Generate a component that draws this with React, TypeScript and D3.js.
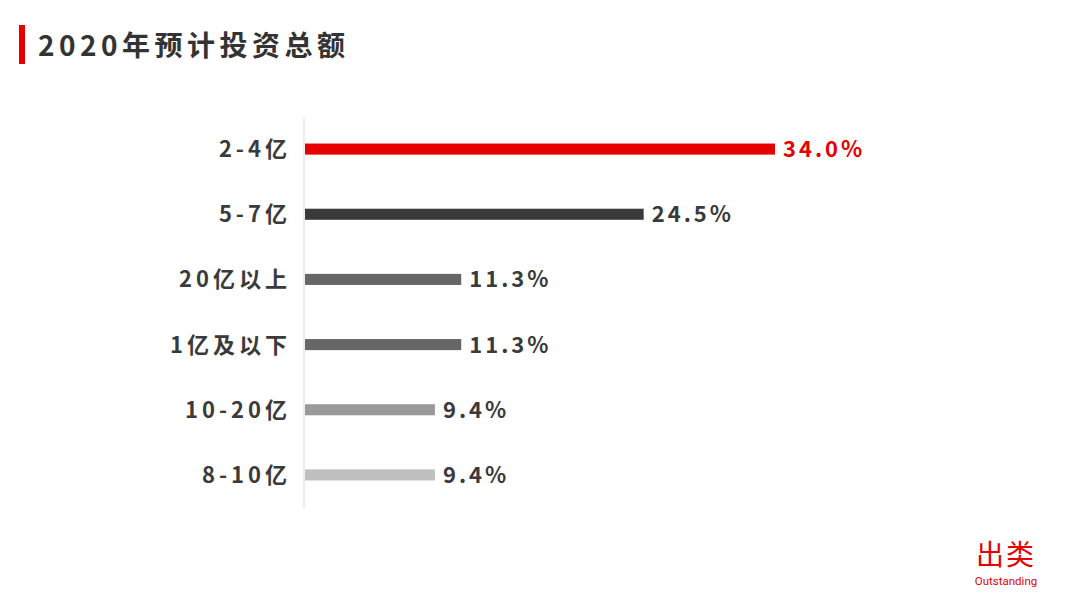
import React from "react";
import * as d3 from "d3";

const categories = ["2-4亿", "5-7亿", "20亿以上", "1亿及以下", "10-20亿", "8-10亿"];
const values = [34.0, 24.5, 11.3, 11.3, 9.4, 9.4];
const barColors = ["#e60000", "#3a3a3a", "#666666", "#666666", "#9a9a9a", "#bfbfbf"];
const valueColors = ["#e60000", "#3a3a3a", "#3a3a3a", "#3a3a3a", "#3a3a3a", "#3a3a3a"];
const title = "2020年预计投资总额";

export default function App() {
  const W = 1080, H = 608;
  const x0 = 304;
  const x = d3.scaleLinear().domain([0, 34]).range([x0 + 1, 775]);
  const y = d3.scaleBand<string>().domain(categories).range([116.5, 507.5]).paddingInner(0.83).paddingOuter(0.415);
  const font = "'Noto Sans CJK SC', 'Noto Sans', sans-serif";
  return (
    <svg width={W} height={H} style={{ position: "absolute", left: 0, top: 0, background: "#fff" }} fontFamily={font}>
      <rect x={19} y={25} width={6} height={39} fill="#e60000" />
      <text x={38} y={56} fontSize={28} fontWeight={700} fill="#333" letterSpacing={4.5}>{title}</text>
      <line x1={x0} x2={x0} y1={117} y2={508} stroke="#d9d9d9" strokeWidth={1} />
      {categories.map((c, i) => {
        const yc = (y(c) as number) + y.bandwidth() / 2;
        return (
          <g key={c}>
            <text x={291} y={yc} dy="0.36em" textAnchor="end" fontSize={22} fill="#3a3a3a" fontWeight={700} letterSpacing={4}>{c}</text>
            <rect x={x(0)} y={y(c)} width={x(values[i]) - x(0)} height={y.bandwidth()} fill={barColors[i]} />
            <text x={x(values[i]) + 8} y={yc} dy="0.36em" fontSize={22} fill={valueColors[i]} fontWeight={700} letterSpacing={3}>{values[i].toFixed(1) + "%"}</text>
          </g>
        );
      })}
      <text x={1006} y={565} textAnchor="middle" fontSize={28} fill="#e60000" fontWeight={400} letterSpacing={2}>出类</text>
      <text x={1006} y={585} textAnchor="middle" fontSize={11.5} fill="#e60000" fontFamily="Roboto, sans-serif">Outstanding</text>
    </svg>
  );
}
